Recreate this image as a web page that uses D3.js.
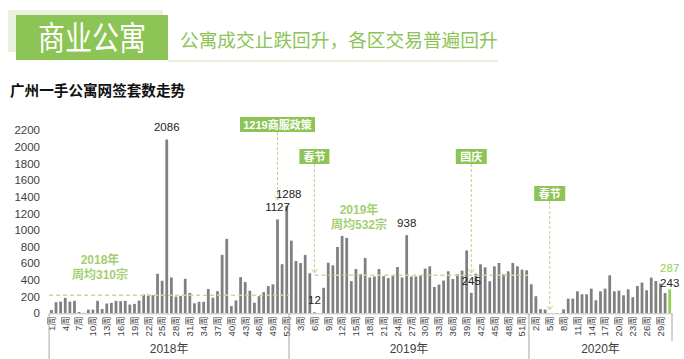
<!DOCTYPE html>
<html><head><meta charset="utf-8">
<script src="https://cdn.jsdelivr.net/npm/d3@7"></script>
<style>
html,body{margin:0;padding:0;background:#fff;}
svg{display:block;font-family:"Liberation Sans","Noto Sans CJK SC",sans-serif;}
</style></head><body>
<script>
// ---------- data ----------
const years = ["2018年","2019年","2020年"];
const values2018 = [40,133,140,185,140,150,16,5,44,44,
  149,52,117,125,149,145,149,105,113,153,
  225,225,217,474,390,2086,430,200,209,415,
  245,120,138,138,291,187,265,702,893,86,
  155,434,374,271,127,205,253,326,348,1127,589,1288];
const values2019 = [872,627,603,700,480,12,0,306,607,575,
  796,929,905,386,531,470,663,430,442,531,
  446,422,446,555,430,938,442,442,455,536,
  564,316,344,392,504,412,468,512,755,245,
  476,588,552,384,564,604,468,504,604,564,524,516];
const values2020 = [348,205,50,45,0,0,0,48,176,176,
  264,228,228,296,156,264,296,456,264,272,
  216,288,192,328,368,276,428,388,356,243,287];
const yTicks = [0,200,400,600,800,1000,1200,1400,1600,1800,2000,2200];
const avgTexts = [["2018年","周均310宗"],["2019年","周均532宗"]];
const avgLevels = [216, 456];           // level where the dashed average lines are drawn
const events = ["1219商服政策","春节","国庆","春节"];
const eventWeek = [[0,50],[1,6],[1,40],[2,5]]; // [year index, week]
const labeledWeeks = [[0,26],[0,50],[0,52],[1,6],[1,26],[1,40]];

// ---------- build ----------
const series = [values2018, values2019, values2020];
const data = [];
series.forEach((arr, yi) => arr.forEach((v, wi) => data.push({year: yi, week: wi + 1, value: v, i: data.length})));
const idxOf = (yi, w) => data.findIndex(d => d.year === yi && d.week === w);

const W = 684, H = 359;
const svg = d3.select("body").append("svg").attr("width", W).attr("height", H);

// header
svg.append("rect").attr("x", 8).attr("y", 10).attr("width", 155).attr("height", 42).attr("fill", "#e8f1dd");
svg.append("rect").attr("x", 16).attr("y", 15).attr("width", 152).attr("height", 45).attr("fill", "#8cc456");
svg.append("text").attr("transform", "translate(92,50) scale(0.9,1.08)").attr("text-anchor", "middle")
  .attr("font-family", "Noto Sans CJK SC").attr("font-size", 30).attr("fill", "#fff").text("商业公寓");
svg.append("text").attr("x", 180).attr("y", 47)
  .attr("font-family", "Noto Sans CJK SC").attr("font-size", 18.7).attr("fill", "#8cc456").text("公寓成交止跌回升，各区交易普遍回升");
svg.append("line").attr("x1", 168).attr("x2", 498).attr("y1", 61).attr("y2", 61).attr("stroke", "#cfe2bb").attr("stroke-width", 1);
svg.append("text").attr("x", 10).attr("y", 96)
  .attr("font-family", "Noto Sans CJK SC").attr("font-weight", "bold").attr("font-size", 14.6).attr("fill", "#111").text("广州一手公寓网签套数走势");

// scales
const x = d3.scaleBand().domain(data.map(d => d.i)).range([49.1, 672]).paddingInner(0.4).paddingOuter(0.2);
const y = d3.scaleLinear().domain([0, 2200]).range([313.3, 130]);
const cx = i => x(i) + x.bandwidth() / 2;

// y axis (labels only)
const yAxis = d3.axisLeft(y).tickValues(yTicks).tickSize(0).tickPadding(0).tickFormat(d3.format("d"));
const ya = svg.append("g").attr("transform", "translate(40,0)").call(yAxis);
ya.select(".domain").remove();
ya.selectAll("text").attr("font-size", 11.5).attr("fill", "#404040").attr("font-family", "Liberation Sans");

// bars
const last = data.length - 1;
svg.append("g").selectAll("rect").data(data).join("rect")
  .attr("x", d => x(d.i)).attr("width", x.bandwidth())
  .attr("y", d => y(d.value)).attr("height", d => y(0) - y(d.value))
  .attr("fill", d => d.i === last ? "#92d050" : "#808080");

// x axis
const xAxis = d3.axisBottom(x).tickSize(0).tickPadding(3)
  .tickValues(data.filter(d => d.i % 3 === 0).map(d => d.i))
  .tickFormat(i => data[i].week + "周");
const xa = svg.append("g").attr("transform", `translate(0,${y(0)})`).call(xAxis);
xa.select(".domain").attr("stroke", "#bfbfbf");
xa.selectAll("text").attr("font-size", 9.5).attr("fill", "#404040")
  .attr("font-family", "Liberation Sans, Noto Sans CJK SC")
  .attr("transform", "rotate(-90)").attr("text-anchor", "end").attr("dy", "0.35em")
  .attr("x", -3).attr("y", 0);

// year group separators and labels
const bounds = [0];
series.forEach((arr, k) => bounds.push(bounds[k] + arr.length));
const step = x.step();
const bx = b => x.range()[0] + b * step;
bounds.forEach((b, k) => {
  svg.append("line").attr("x1", bx(b)).attr("x2", bx(b)).attr("y1", y(0))
    .attr("y2", k === bounds.length - 1 ? 341 : 359).attr("stroke", "#a6a6a6").attr("stroke-width", 1);
});
years.forEach((t, k) => {
  svg.append("text").attr("x", (bx(bounds[k]) + bx(bounds[k + 1])) / 2).attr("y", 352.5)
    .attr("text-anchor", "middle").attr("font-size", 12).attr("fill", "#404040").text(t);
});

// average dashed lines
svg.append("line").attr("x1", bx(bounds[0])).attr("x2", bx(bounds[1])).attr("y1", y(avgLevels[0])).attr("y2", y(avgLevels[0]))
  .attr("stroke", "#c3daa6").attr("stroke-width", 1.5).attr("stroke-dasharray", "4,3");
svg.append("line").attr("x1", cx(idxOf(1, 6))).attr("x2", bx(bounds[2])).attr("y1", y(avgLevels[1])).attr("y2", y(avgLevels[1]))
  .attr("stroke", "#c3daa6").attr("stroke-width", 1.5).attr("stroke-dasharray", "4,3");
[[100, 264, 279], [359, 214, 229]].forEach((p, k) => {
  svg.append("text").attr("x", p[0]).attr("y", p[1]).attr("text-anchor", "middle").attr("font-size", 12)
    .attr("font-weight", "bold").attr("fill", "#a3cf72").text(avgTexts[k][0]);
  svg.append("text").attr("x", p[0]).attr("y", p[2]).attr("text-anchor", "middle").attr("font-size", 12)
    .attr("font-weight", "bold").attr("fill", "#a3cf72").text(avgTexts[k][1]);
});

// event boxes with dashed arrows
const boxLayout = [[117, 75, 200], [149, 30, 273], [149, 31, 273], [186, 31, 310]]; // [top, width, arrow end y]
events.forEach((t, k) => {
  const i = idxOf(eventWeek[k][0], eventWeek[k][1]);
  const xc = cx(i), [top, w, endY] = boxLayout[k];
  svg.append("line").attr("x1", xc).attr("x2", xc).attr("y1", top + 15).attr("y2", endY)
    .attr("stroke", "#b5d58f").attr("stroke-width", 1).attr("stroke-dasharray", "3,2");
  svg.append("path").attr("d", `M${xc - 3},${endY - 4}L${xc},${endY}L${xc + 3},${endY - 4}`)
    .attr("fill", "none").attr("stroke", "#c6d98a").attr("stroke-width", 1);
  svg.append("rect").attr("x", xc - w / 2).attr("y", top).attr("width", w).attr("height", 15).attr("fill", "#8cc456");
  svg.append("text").attr("x", xc).attr("y", top + 11.5).attr("text-anchor", "middle")
    .attr("font-size", 11).attr("font-weight", "bold").attr("fill", "#fff").text(t);
});

// value labels
labeledWeeks.forEach(([yi, w]) => {
  const d = data[idxOf(yi, w)];
  svg.append("text").attr("x", cx(d.i) + (d.value === 1288 ? 2 : 0)).attr("y", y(d.value) - 8)
    .attr("text-anchor", "middle").attr("font-size", 11.5).attr("fill", "#222").text(d.value);
});
const prev = data[last - 1], cur = data[last];
svg.append("text").attr("x", cx(cur.i)).attr("y", 287).attr("text-anchor", "middle")
  .attr("font-size", 11.5).attr("fill", "#222").text(prev.value);
svg.append("text").attr("x", cx(cur.i)).attr("y", y(cur.value) - 17).attr("text-anchor", "middle")
  .attr("font-size", 11.5).attr("fill", "#92d050").text(cur.value);
</script>
</body></html>
